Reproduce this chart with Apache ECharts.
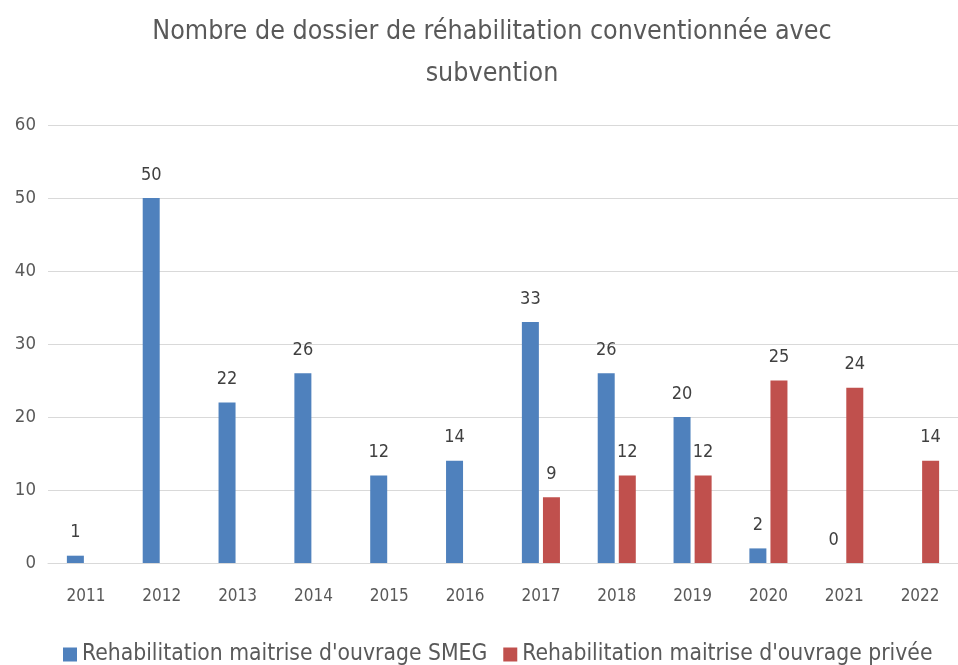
<!DOCTYPE html>
<html><head><meta charset="utf-8">
<script src="https://cdn.jsdelivr.net/npm/echarts@6/dist/echarts.min.js"></script>
<style>html,body{margin:0;padding:0;background:#fff}#c{width:958px;height:665px}</style>
</head><body><div id="c"></div>
<script>
const categories = ['2011','2012','2013','2014','2015','2016','2017','2018','2019','2020','2021','2022'];
const smeg = [1,50,22,26,12,14,33,26,20,2,0,null];
const privee = [null,null,null,null,null,null,9,12,12,25,24,14];
const yTicks = {min:0, max:60, interval:10};
const seriesNames = ["Rehabilitation maitrise d'ouvrage SMEG","Rehabilitation maitrise d'ouvrage privée"];
const FONT = '"DejaVu Sans Condensed", "Liberation Sans", sans-serif';
const chart = echarts.init(document.getElementById('c'));
const lbl = {show:true, position:'top', distance:14, color:'#404040', fontSize:18, fontFamily:FONT};
chart.setOption({
  animation:false,
  title:{text:'Nombre de dossier de réhabilitation conventionnée avec\nsubvention', left:487, textAlign:'center', top:6,
    textStyle:{color:'#595959', fontSize:26.6, fontWeight:'normal', fontFamily:FONT, lineHeight:42}},
  grid:{left:48, right:-5, top:125, bottom:102},
  legend:{bottom:-6, left:58, itemWidth:14, itemHeight:14, itemGap:16, icon:'rect',
    textStyle:{color:'#595959', fontSize:22.7, fontFamily:FONT}},
  xAxis:{type:'category', data:categories, axisTick:{show:false},
    axisLine:{lineStyle:{color:'#d9d9d9', width:1}},
    axisLabel:{color:'#595959', fontSize:17, fontFamily:FONT, margin:25}},
  yAxis:{type:'value', min:yTicks.min, max:yTicks.max, interval:yTicks.interval,
    axisLabel:{color:'#595959', fontSize:18.5, fontFamily:FONT, margin:12},
    splitLine:{lineStyle:{color:'#d9d9d9', width:1}}},
  series:[
    {name:seriesNames[0], type:'bar', data:smeg, barWidth:17, barGap:'24%', itemStyle:{color:'#4F81BD'}, label:lbl},
    {name:seriesNames[1], type:'bar', data:privee, barWidth:17, itemStyle:{color:'#C0504D'}, label:lbl}
  ]
});
</script></body></html>
